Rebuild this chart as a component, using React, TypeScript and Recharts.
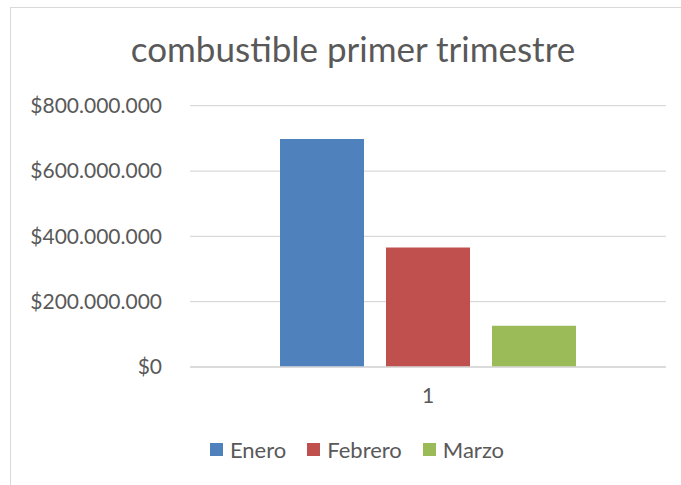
import React from 'react';
import { BarChart, Bar, XAxis, YAxis, CartesianGrid, Legend } from 'recharts';

const categories = ['1'];
const seriesNames = ['Enero', 'Febrero', 'Marzo'];
const enero = [698000000];
const febrero = [366000000];
const marzo = [126000000];
const yTicks = [0, 200000000, 400000000, 600000000, 800000000];
const colors = ['#4F81BD', '#C0504D', '#9BBB59'];
const title = 'combustible primer trimestre';

const data = categories.map((c, i) => ({
  name: c,
  Enero: enero[i],
  Febrero: febrero[i],
  Marzo: marzo[i],
}));

const FONT = 'Lato, "Open Sans", sans-serif';
const TEXT = '#595959';

const fmt = (v: number) => '$' + Math.round(v).toString().replace(/\B(?=(\d{3})+(?!\d))/g, '.');

const LegendContent = (props: any) => {
  const payload = props.payload || [];
  return (
    <div style={{ display: 'flex', justifyContent: 'center', alignItems: 'center', fontFamily: FONT, fontSize: 22, color: TEXT }}>
      {payload.map((p: any, i: number) => (
        <div key={i} style={{ display: 'flex', alignItems: 'center', marginLeft: i === 0 ? 0 : 21 }}>
          <div style={{ width: 13, height: 13, background: p.color, marginRight: 7 }} />
          <span>{p.value}</span>
        </div>
      ))}
    </div>
  );
};

export default function App() {
  return (
    <div style={{ position: 'absolute', left: 0, top: 0, width: 681, height: 485, overflow: 'hidden', background: '#fff' }}>
      <div style={{ position: 'absolute', left: 10, top: 7, width: 700, height: 520, border: '1px solid #d9d9d9', boxSizing: 'border-box' }} />
      <BarChart
        width={681}
        height={485}
        data={data}
        margin={{ top: 105.7, right: 15, left: 0, bottom: 60 }}
        barCategoryGap={90}
        barGap={22}
        style={{ position: 'absolute', left: 0, top: 0 }}
      >
        <CartesianGrid vertical={false} stroke="#d9d9d9" strokeWidth={1.3} />
        <XAxis
          dataKey="name"
          axisLine={{ stroke: '#d9d9d9', strokeWidth: 1.3 }}
          tickLine={false}
          tickSize={0}
          tickMargin={21}
          tick={{ fill: TEXT, fontSize: 21, fontFamily: FONT }}
        />
        <YAxis
          width={190}
          domain={[0, 800000000]}
          ticks={yTicks}
          axisLine={false}
          tickLine={false}
          tickSize={0}
          tickMargin={28}
          tickFormatter={fmt}
          tick={{ fill: TEXT, fontSize: 21, fontFamily: FONT }}
        />
        <Legend
          content={<LegendContent />}
          wrapperStyle={{ position: 'absolute', left: 10, top: 436, width: 694, height: 28 }}
        />
        {seriesNames.map((s, i) => (
          <Bar key={s} dataKey={s} fill={colors[i]} isAnimationActive={false} />
        ))}
      </BarChart>
      <svg width={681} height={100} style={{ position: 'absolute', left: 0, top: 0, pointerEvents: 'none' }}>
        <text x={353} y={62} textAnchor="middle" fill={TEXT} fontFamily={FONT} fontSize={35}>{title}</text>
      </svg>
    </div>
  );
}
